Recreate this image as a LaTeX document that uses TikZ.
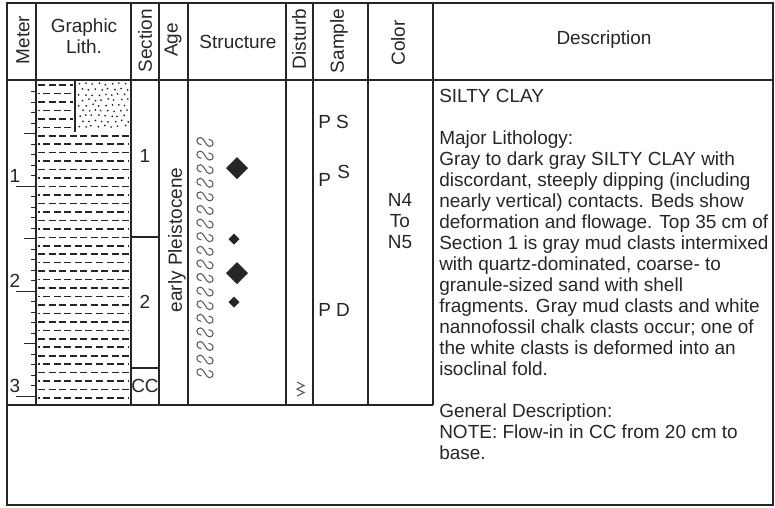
\documentclass[tikz,border=0pt]{standalone}
\usepackage{fontspec}
\setmainfont{Liberation Sans}
\definecolor{ink}{HTML}{262626}

\begin{document}
\begin{tikzpicture}[x=0.025cm,y=-0.025cm,
  font=\fontsize{13.5}{14.94}\selectfont,
  frm/.style={draw=ink,line width=1.2pt},
  col/.style={draw=ink,line width=0.9pt},
  hd/.style={text=ink,inner sep=0pt,align=center},
  vhd/.style={hd,rotate=90},
  txt/.style={text=ink,inner sep=0pt,align=left},
  tk/.style={draw=ink,line width=0.6pt},
  dsh/.style={draw=ink,line width=1.1pt,dash pattern=on 5pt off 2.5pt},
  wav/.style={draw=ink!75,line width=0.75pt},
  dia/.style={fill=ink}]

\useasboundingbox (0,0) rectangle (775,507);

% frame and columns
\draw[frm] (7,3) rectangle (773,505);
\draw[frm] (7,80) -- (773,80);
\draw[frm] (7,405) -- (433,405);
\foreach \x in {36,131,159,188,286,313,368,433} \draw[col] (\x,3) -- (\x,405);

% headers
\node[vhd] (hMeter) at (23,40) {Meter};
\node[hd] (hLith) at (84,36) {Graphic\\Lith.};
\node[vhd] (hSec) at (145,41) {Section};
\node[vhd] (hAge) at (173,40) {Age};
\node[hd] (hStr) at (238,42) {Structure};
\node[vhd] (hDist) at (299,39) {Disturb};
\node[vhd] (hSmp) at (339,41) {Sample};
\node[vhd] (hCol) at (398,43) {Color};
\node[hd] (hDesc) at (604,40) {Description};

% meter scale
\foreach \k in {1,...,29} \draw[tk] (31,81+10.5*\k) -- (36,81+10.5*\k);
\foreach \k in {5,15,25} \draw[tk] (24,81+10.5*\k) -- (36,81+10.5*\k);
\foreach \m in {1,2,3}{
  \draw[tk] (16,81+105*\m) -- (36,81+105*\m);
  \node[txt,anchor=base] (m\m) at (15,77+105*\m) {\m};
}

% graphic lithology
\draw[col] (75,80) -- (75,132);
\foreach \r in {0,...,37}{
  \pgfmathsetmacro\yy{85+8.46*\r}
  \pgfmathsetmacro\xe{\yy<132 ? 73 : 129}
  \pgfmathsetmacro\ph{mod(\r,2)*3.75}
  \draw[dsh,dash phase=\ph pt] (38,\yy) -- (\xe,\yy);
}
\pgfmathsetseed{11}
\foreach \i in {0,...,7}
  \foreach \j in {0,...,8}
    \fill[ink] ({79+6.5*\i+3.2*mod(\j,2)+1.2*rand},{84+5.3*\j+rand}) circle (0.7pt);

% sections
\draw[col] (131,237) -- (159,237);
\draw[frm] (131,368) rectangle (159,405);
\node[hd] (s1) at (145,156) {1};
\node[hd] (s2) at (145,302) {2};
\node[hd] (scc) at (145,386) {CC};

% age
\node[vhd] (age) at (177,240) {early Pleistocene};

% structure
\foreach \i in {0,...,17}
  \draw[wav,shift={(205,142+13.6*\i)},scale=0.9]
    (-4,3) .. controls (-10,3) and (-11,-5) .. (-5,-5)
    .. controls (-1,-5) and (1,5) .. (5,5) .. controls (11,5) and (10,-3) .. (4,-3);
\foreach \x/\y/\s in {237/168/11,234/239/5.5,237/273/11,234/302/5.5}
  \fill[dia] (\x,\y-\s) -- (\x+\s,\y) -- (\x,\y+\s) -- (\x-\s,\y) -- cycle;

% disturbance
\draw[wav,line width=0.8pt] (297,382) -- (304,385.5) -- (297,389) -- (304,392.5) -- (297,396);

% samples
\node[txt,anchor=west] (p1) at (318,122) {P S};
\node[txt,anchor=west] (p2) at (318,180) {P};
\node[txt,anchor=west] (p3) at (337,172) {S};
\node[txt,anchor=west] (p4) at (318,310) {P D};

% color
\node[hd] (clr) at (400,221.5) {N4\\To\\N5};

% description
\node[txt,anchor=base west] (dTitle) at (439,102) {SILTY CLAY};
\node[txt,anchor=north west] (dMajor) at (439,130) {Major Lithology:\\
Gray to dark gray SILTY CLAY with\\
discordant, steeply dipping (including\\
nearly vertical) contacts. Beds show\\
deformation and flowage. Top 35 cm of\\
Section 1 is gray mud clasts intermixed\\
with quartz-dominated, coarse- to\\
granule-sized sand with shell\\
fragments. Gray mud clasts and white\\
nannofossil chalk clasts occur; one of\\
the white clasts is deformed into an\\
isoclinal fold.};
\node[txt,anchor=north west] (dGen) at (439,403) {General Description:\\
NOTE: Flow-in in CC from 20 cm to\\
base.};
\end{tikzpicture}
\end{document}
